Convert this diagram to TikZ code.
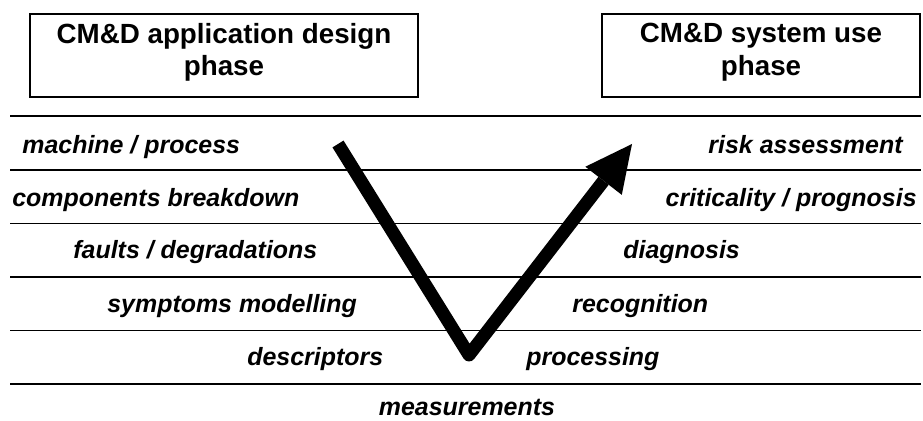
\documentclass[tikz,border=0pt]{standalone}
\usepackage{fontspec}
\setmainfont{Liberation Sans}
\usetikzlibrary{arrows.meta}

\begin{document}
\begin{tikzpicture}[x=0.02cm, y=-0.02cm,
    phasebox/.style={draw, line width=1.5pt, minimum width=7.76cm, minimum height=1.66cm,
        align=center, text depth=0.24cm, font=\fontsize{15.8}{18.7}\selectfont\bfseries},
    steplabel/.style={font=\fontsize{14.2}{17}\selectfont\bfseries\itshape, inner sep=0pt},
    levelline/.style={line width=1.1pt}]
    \useasboundingbox (0,0) rectangle (923,421);

    % Phase boxes
    \node[phasebox] (design) at (224,55.5) {CM\&D application design\\phase};
    \node[phasebox, minimum width=6.36cm] (use) at (761,55.5) {CM\&D system use\\phase};

    % Rules between the levels
    \foreach \y in {116,170,223.5,277,330.5,384}
        \draw[levelline] (10,\y) -- (921,\y);

    % Design side (going down)
    \node[steplabel, anchor=base west] (machine) at (22,154) {machine / process};
    \node[steplabel, anchor=base west] (components) at (12,207) {components breakdown};
    \node[steplabel, anchor=base west] (faults) at (73,259) {faults / degradations};
    \node[steplabel, anchor=base west] (symptoms) at (107,313) {symptoms modelling};
    \node[steplabel, anchor=base west] (descriptors) at (247,366) {descriptors};

    % Use side (going up)
    \node[steplabel, anchor=base east] (risk) at (903,154) {risk assessment};
    \node[steplabel, anchor=base east] (criticality) at (917,207) {criticality / prognosis};
    \node[steplabel, anchor=base west] (diagnosis) at (623,259) {diagnosis};
    \node[steplabel, anchor=base west] (recognition) at (572,313) {recognition};
    \node[steplabel, anchor=base west] (processing) at (526,366) {processing};

    \node[steplabel, anchor=base] (measurements) at (467,416) {measurements}; % bottom level

    % The V
    \coordinate (vtop) at (338,144);
    \coordinate (vbottom) at (469,355);
    \coordinate (vtip) at (632,144);
    \draw[line width=0.26cm, line join=round,
        -{Triangle[length=0.93cm, width=0.92cm, line width=0pt]}] (vtop) -- (vbottom) -- (vtip);

\end{tikzpicture}
\end{document}
